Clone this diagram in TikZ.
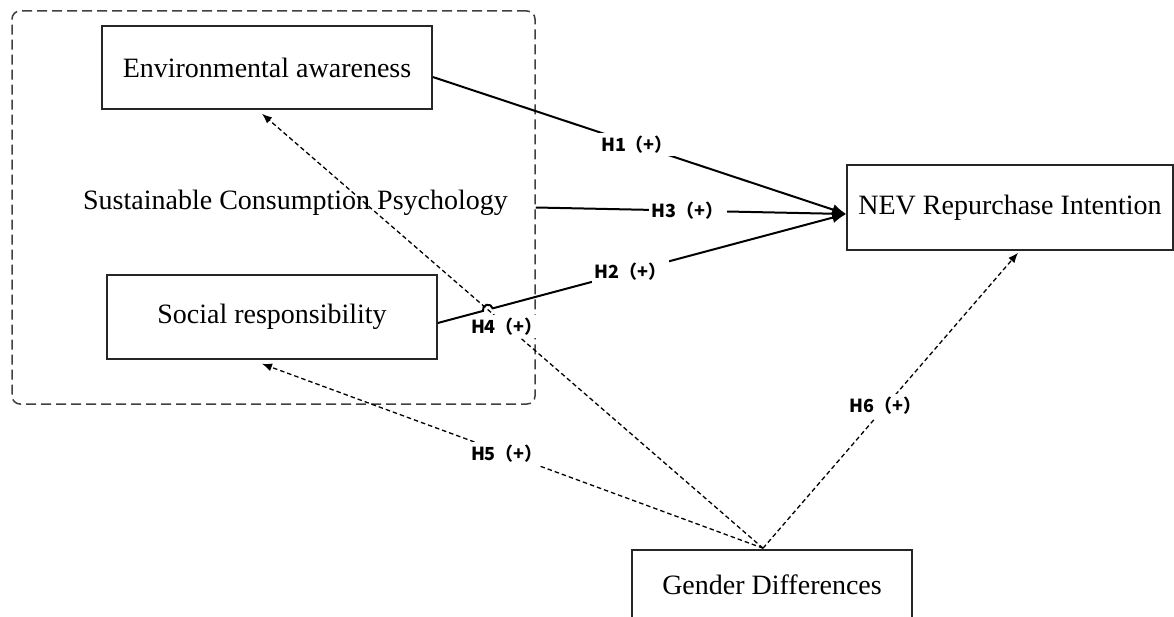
\documentclass[tikz,border=0pt]{standalone}
\usepackage{fontspec}
\setmainfont{Liberation Serif}
\newfontfamily\cjk{Noto Sans CJK SC}
\usetikzlibrary{arrows.meta,calc}
\tikzset{
  box/.style={draw=black!85, line width=1.6pt, fill=white, font=\fontsize{28}{32}\selectfont, inner sep=0pt},
  grpbox/.style={draw=black!75, line width=1.5pt, dash pattern=on 10pt off 5pt, rounded corners=8pt, inner sep=0pt},
  solidarr/.style={line width=2pt, -{Latex[length=14pt,width=11pt]}},
  dasharr/.style={line width=1.3pt, dash pattern=on 4.5pt off 3pt, -{Latex[length=10pt,width=8pt]}},
  lbl/.style={fill=white, inner sep=3pt, font=\cjk\bfseries\fontsize{18}{20}\selectfont}
}
\begin{document}
\begin{tikzpicture}[x=1pt,y=-1pt]
\useasboundingbox (0,0) rectangle (1174,617);
\fill[white] (0,0) rectangle (1174,617);
% group
\node[grpbox, minimum width=523pt, minimum height=393pt] (grp) at (273.5,207.5) {};
\node[font=\fontsize{28}{32}\selectfont, anchor=base] (scp) at (295.5,210) {Sustainable Consumption Psychology};
% boxes
\node[box, minimum width=330pt, minimum height=83pt] (ea) at (267,67.5) {Environmental awareness};
\node[box, minimum width=330pt, minimum height=84pt] (sr) at (272,317) {Social responsibility};
\node[box, minimum width=326pt, minimum height=85pt] (nev) at (1010,207.5) {NEV Repurchase Intention};
\node[box, minimum width=280pt, minimum height=74pt] (gd) at (772,587) {\raisebox{4pt}{Gender Differences}};
% anchor points
\coordinate (h1s) at ([yshift=-9.5pt]ea.east);
\coordinate (h2s) at ([yshift=-6pt]sr.east);
\coordinate (nevin) at ([yshift=-6.5pt]nev.west);
\coordinate (gdtop) at ([xshift=-9pt,yshift=1pt]gd.north);
\coordinate (eatip) at ([xshift=-5pt,yshift=-4pt]ea.south);
\coordinate (srtip) at ([xshift=-10pt,yshift=-4pt]sr.south);
\coordinate (nevtip) at ([xshift=8pt,yshift=-2pt]nev.south);
\coordinate (j) at (intersection of h2s--nevin and gdtop--eatip);
\coordinate (j1) at ($(j)!5pt!(h2s)$);
\coordinate (j2) at ($(j)!5pt!(nevin)$);
% dashed moderating arrows
\draw[dasharr] (gdtop) -- node[lbl, pos=0.511] {H4（+）} (eatip);
\draw[dasharr] (gdtop) -- node[lbl, pos=0.511] {H5（+）} (srtip);
\draw[dasharr] (gdtop) -- node[lbl, pos=0.482] {H6（+）} (nevtip);
% solid arrows
\draw[solidarr] (h1s) -- node[lbl, pos=0.494] {H1（+）} (nevin);
\draw[solidarr] (grp.east) -- node[lbl, pos=0.49] {H3（+）} (nevin);
\draw[solidarr] (h2s) -- (j1) arc[start angle=194.89, end angle=14.89, radius=5pt] -- node[lbl, pos=0.39] {H2（+）} (nevin);
\end{tikzpicture}
\end{document}
